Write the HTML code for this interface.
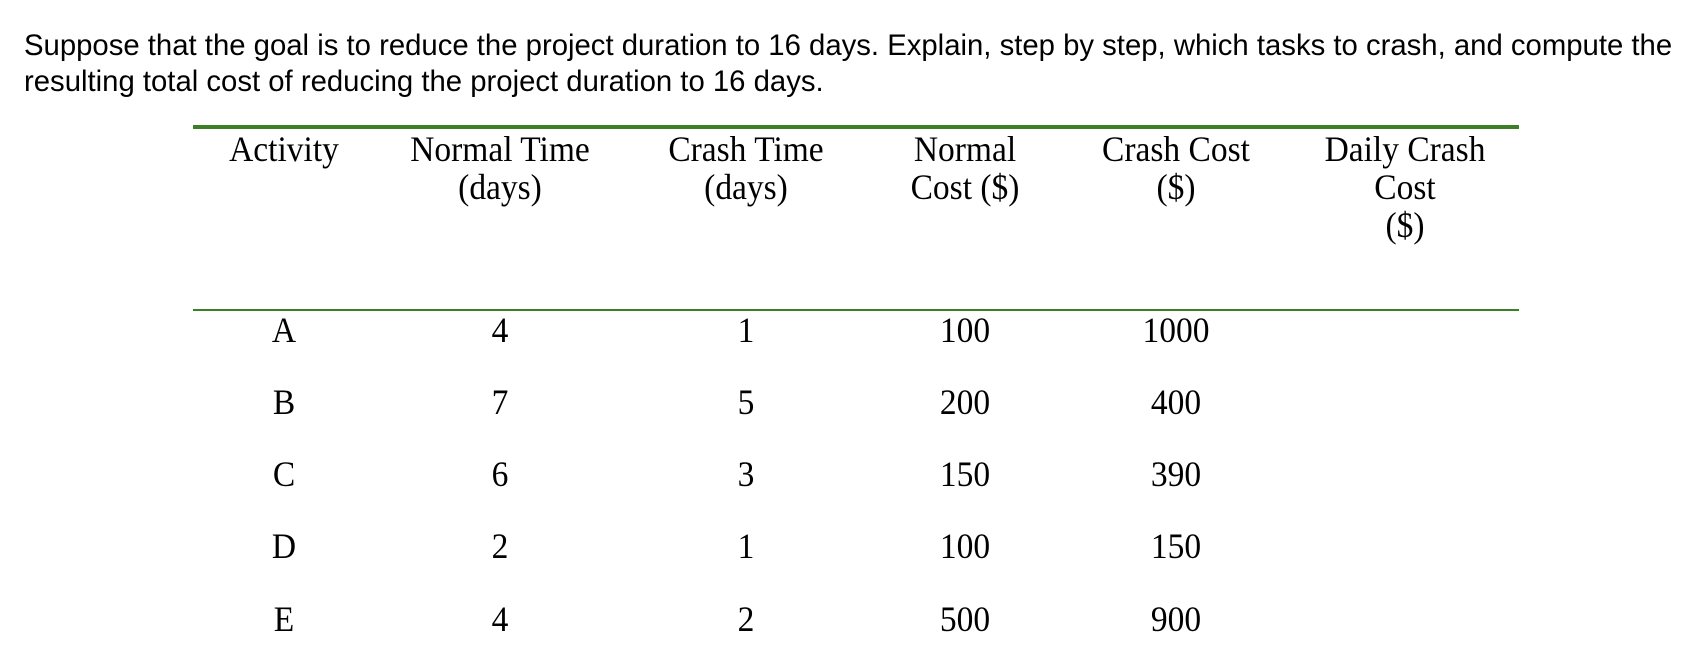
<!DOCTYPE html>
<html><head><meta charset="utf-8"><style>
body{margin:0;width:1702px;height:666px;background:#fff;position:relative;overflow:hidden}
.p{position:absolute;left:24px;font-family:"Liberation Sans",Arial,sans-serif;font-size:29.3px;color:#000;white-space:nowrap;line-height:1}
.t{position:absolute;font-family:"Liberation Serif","Times New Roman",serif;font-size:36px;color:#000;white-space:nowrap;text-align:center;width:300px;line-height:38px;transform:scaleX(0.93)}
.g{position:absolute;left:193px;width:1326px;background:#3d7f26}
</style></head><body>
<div class="p" style="top:31px">Suppose that the goal is to reduce the project duration to 16 days. Explain, step by step, which tasks to crash, and compute the</div>
<div class="p" style="top:67px">resulting total cost of reducing the project duration to 16 days.</div>
<div class="g" style="top:125px;height:4px"></div>
<div class="g" style="top:309px;height:2px"></div>

<div class="t" style="left:134px;top:130px">Activity</div>
<div class="t" style="left:350px;top:130px">Normal Time<br>(days)</div>
<div class="t" style="left:596px;top:130px">Crash Time<br>(days)</div>
<div class="t" style="left:815px;top:130px">Normal<br>Cost ($)</div>
<div class="t" style="left:1026px;top:130px">Crash Cost<br>($)</div>
<div class="t" style="left:1255px;top:130px">Daily Crash<br>Cost<br>($)</div>

<div class="t" style="left:134px;top:311px">A</div><div class="t" style="left:350px;top:311px">4</div><div class="t" style="left:596px;top:311px">1</div><div class="t" style="left:815px;top:311px">100</div><div class="t" style="left:1026px;top:311px">1000</div>
<div class="t" style="left:134px;top:383px">B</div><div class="t" style="left:350px;top:383px">7</div><div class="t" style="left:596px;top:383px">5</div><div class="t" style="left:815px;top:383px">200</div><div class="t" style="left:1026px;top:383px">400</div>
<div class="t" style="left:134px;top:455px">C</div><div class="t" style="left:350px;top:455px">6</div><div class="t" style="left:596px;top:455px">3</div><div class="t" style="left:815px;top:455px">150</div><div class="t" style="left:1026px;top:455px">390</div>
<div class="t" style="left:134px;top:527px">D</div><div class="t" style="left:350px;top:527px">2</div><div class="t" style="left:596px;top:527px">1</div><div class="t" style="left:815px;top:527px">100</div><div class="t" style="left:1026px;top:527px">150</div>
<div class="t" style="left:134px;top:600px">E</div><div class="t" style="left:350px;top:600px">4</div><div class="t" style="left:596px;top:600px">2</div><div class="t" style="left:815px;top:600px">500</div><div class="t" style="left:1026px;top:600px">900</div>
</body></html>
